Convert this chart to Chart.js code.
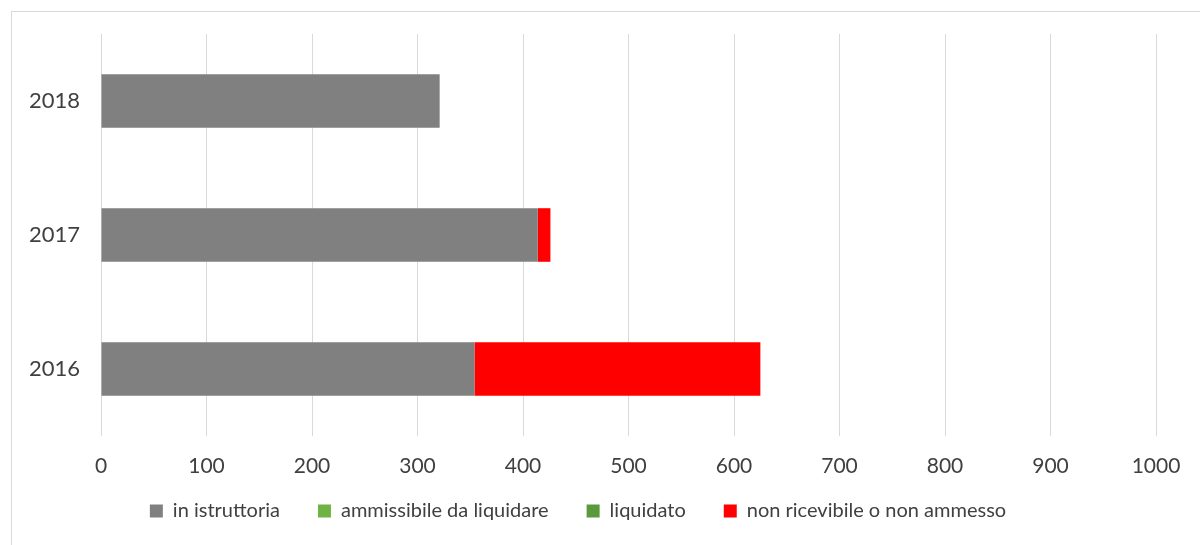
<!DOCTYPE html>
<html>
<head>
<meta charset="utf-8">
<script src="https://cdn.jsdelivr.net/npm/chart.js@4/dist/chart.umd.min.js"></script>
<style>
  html, body { margin: 0; padding: 0; background: #fff; }
  #wrap { position: relative; width: 1200px; height: 545px; overflow: hidden; }
  #frame { position: absolute; left: 11px; top: 11px; width: 1300px; height: 700px; border: 1px solid #d9d9d9; box-sizing: border-box; pointer-events: none; }
  canvas { position: absolute; left: 0; top: 0; }
</style>
</head>
<body>
<div id="wrap">
  <canvas id="grafico" width="1200" height="545"></canvas>
  <div id="frame"></div>
</div>
<script>
  const anni = ["2018", "2017", "2016"];
  const inIstruttoria = [321, 414, 354];
  const ammissibile = [0, 0, 0];
  const liquidato = [0, 0, 0];
  const nonAmmesso = [0, 12, 271];
  const tickX = [0, 100, 200, 300, 400, 500, 600, 700, 800, 900, 1000];

  const famiglia = "Lato, 'Open Sans', sans-serif";

  // legenda piu' vicina all'asse x (il padding orizzontale la spingerebbe giu')
  const spostaLegenda = {
    id: "spostaLegenda",
    afterLayout(chart) {
      chart.legend.top -= 23;
      chart.legend.bottom -= 23;
    },
  };

  new Chart(document.getElementById("grafico").getContext("2d"), {
    type: "bar",
    data: {
      labels: anni,
      datasets: [
        { label: "in istruttoria", data: inIstruttoria, backgroundColor: "#808080" },
        { label: "ammissibile da liquidare", data: ammissibile, backgroundColor: "#70b244" },
        { label: "liquidato", data: liquidato, backgroundColor: "#5a9a3c" },
        { label: "non ricevibile o non ammesso", data: nonAmmesso, backgroundColor: "#ff0000" },
      ],
    },
    plugins: [spostaLegenda],
    options: {
      indexAxis: "y",
      responsive: false,
      animation: false,
      layout: { padding: { left: 0, right: 44, top: 34, bottom: -9 } },
      datasets: { bar: { barPercentage: 0.4, categoryPercentage: 1 } },
      plugins: {
        tooltip: { enabled: false },
        legend: {
          position: "bottom",
          labels: {
            font: { family: famiglia, size: 20 },
            color: "#404040",
            boxWidth: 13,
            boxHeight: 13,
            padding: 38,
          },
        },
      },
      scales: {
        x: {
          stacked: true,
          min: 0,
          max: 1000,
          afterBuildTicks: (s) => { s.ticks = tickX.map((v) => ({ value: v })); },
          grid: { color: "#d9d9d9", drawTicks: false },
          border: { display: false },
          ticks: { font: { family: famiglia, size: 21 }, color: "#404040", padding: 18, callback: (v) => String(v) },
          afterFit: (s) => { s.height = 50; },
        },
        y: {
          stacked: true,
          grid: { display: false },
          border: { display: false },
          ticks: { font: { family: famiglia, size: 22 }, color: "#404040", padding: 13 },
          afterFit: (s) => { s.width = 101; },
        },
      },
    },
  });
</script>
</body>
</html>
